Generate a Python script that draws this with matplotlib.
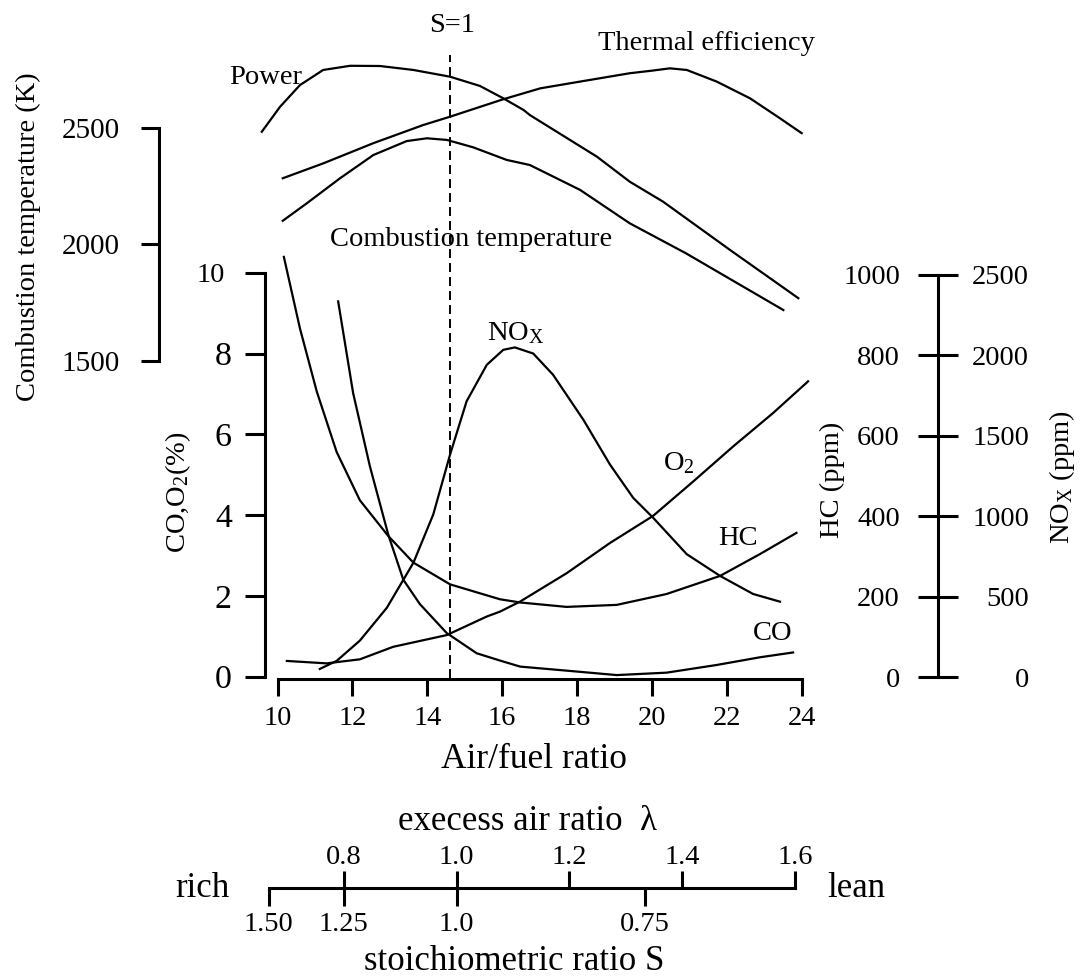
import matplotlib
matplotlib.use("Agg")
import matplotlib.pyplot as plt

plt.rcParams['font.family'] = ['Liberation Serif', 'DejaVu Serif']
plt.rcParams['mathtext.fontset'] = 'custom'
plt.rcParams['mathtext.rm'] = 'Liberation Serif'
plt.rcParams['mathtext.it'] = 'Liberation Serif:italic'
plt.rcParams['mathtext.bf'] = 'Liberation Serif:bold'

# ---------------------------------------------------------------- data
# air/fuel ratio of the stoichiometric mixture
S1_AFR = 14.6

# emissions (lower panel)
co_afr = [11.62, 12.02, 12.47, 12.96, 13.36, 13.80, 14.52, 15.32, 15.94,
          16.48, 17.72, 19.06, 20.39, 21.73, 22.88, 23.77]
co_pct = [9.29, 7.02, 5.20, 3.51, 2.40, 1.80, 1.08, 0.58, 0.40,
          0.25, 0.15, 0.04, 0.10, 0.29, 0.48, 0.60]

o2_afr = [10.25, 11.31, 12.20, 13.09, 14.52, 15.59, 15.94, 16.48, 17.72,
          18.88, 20.03, 21.10, 22.17, 23.24, 24.17]
o2_pct = [0.39, 0.33, 0.43, 0.74, 1.03, 1.49, 1.61, 1.86, 2.56,
          3.31, 3.98, 4.83, 5.70, 6.53, 7.31]

hc_afr = [10.17, 10.60, 11.05, 11.58, 12.20, 12.96, 13.63, 14.61, 15.94,
          16.48, 17.72, 19.06, 20.39, 21.82, 22.88, 23.86]
hc_ppm = [1045, 867, 710, 560, 440, 351, 285, 231, 194,
          186, 175, 180, 207, 252, 306, 359]

nox_afr = [11.13, 11.58, 12.20, 12.92, 13.63, 14.16, 14.61, 15.05, 15.59,
           16.03, 16.34, 16.83, 17.36, 18.17, 18.88, 19.50, 20.03, 20.93,
           21.82, 22.70, 23.42]
nox_ppm = [52, 102, 228, 432, 712, 1012, 1385, 1715, 1942,
           2035, 2050, 2012, 1880, 1600, 1322, 1115, 992, 765,
           630, 518, 470]

# engine performance (upper panel, temperature scale)
power_afr = [9.58, 10.07, 10.60, 11.22, 11.94, 12.74, 13.63, 14.61, 15.41,
             16.03, 16.57, 16.74, 18.53, 19.41, 20.30, 22.09, 23.91]
power_val = [2485, 2593, 2686, 2751, 2769, 2768, 2751, 2722, 2682,
             2629, 2579, 2557, 2378, 2270, 2184, 1976, 1769]

eff_afr = [10.14, 11.22, 12.56, 13.89, 14.61, 16.03, 17.02, 18.08, 19.41,
           20.00, 20.48, 20.93, 21.73, 22.62, 23.42, 24.00]
eff_val = [2285, 2349, 2436, 2514, 2550, 2625, 2672, 2701, 2737,
           2748, 2758, 2751, 2701, 2629, 2543, 2479]

temp_afr = [10.14, 10.78, 11.67, 12.56, 13.45, 13.99, 14.52, 15.23, 15.41,
            16.12, 16.74, 18.08, 19.41, 20.91, 23.51]
temp_K = [2102, 2177, 2285, 2385, 2445, 2457, 2450, 2418, 2407,
          2364, 2342, 2235, 2091, 1962, 1718]

# axis ticks
afr_ticks = [10, 12, 14, 16, 18, 20, 22, 24]
pct_ticks = [0, 2, 4, 6, 8, 10]
temp_ticks = [1500, 2000, 2500]
hc_ticks = [0, 200, 400, 600, 800, 1000]
nox_ticks = [0, 500, 1000, 1500, 2000, 2500]
lambda_ticks = [0.8, 1.0, 1.2, 1.4, 1.6]
lambda_labels = ['0.8', '1.0', '1.2', '1.4', '1.6']
s_ticks = [1.50, 1.25, 1.0, 0.75]
s_labels = ['1.50', '1.25', '1.0', '0.75']

# ---------------------------------------------------------------- layout
W, H = 1083, 976
fig = plt.figure(figsize=(W / 100, H / 100), dpi=100)
LW_AX = 2.2
LW_CURVE = 1.6
FS = 20.5


def hlim(p0, v0, p1, v1):
    k = (v1 - v0) / (p1 - p0)
    return v0 - p0 * k, v0 + (W - p0) * k


def vlim(p0, v0, p1, v1):
    k = (v1 - v0) / (p1 - p0)
    return v0 + (H - p0) * k, v0 - p0 * k


def lin(p0, v0, p1, v1, p):
    return v0 + (p - p0) * (v1 - v0) / (p1 - p0)


def afr_at(px):
    return lin(277.5, 10, 801.7, 24, px)


def pct_at(py):
    return lin(676.7, 0, 272.7, 10, py)


def fxy(x, y):
    return x / W, 1 - y / H


def clean(a):
    for s in a.spines.values():
        s.set_visible(False)
        s.set_linewidth(LW_AX)
    a.patch.set_visible(False)


# main axes: CO, O2 in %
ax = fig.add_axes([0, 0, 1, 1])
clean(ax)
ax.plot(co_afr, co_pct, color='k', lw=LW_CURVE)
ax.plot(o2_afr, o2_pct, color='k', lw=LW_CURVE)
ax.plot([S1_AFR, S1_AFR], [pct_at(678), pct_at(55)], color='k', lw=1.4,
        ls=(0, (4.6, 2.6)))
ax.set_xlim(*hlim(277.5, 10, 801.7, 24))
ax.set_ylim(*vlim(676.7, 0, 272.7, 10))

ax.spines['left'].set_visible(True)
ax.spines['left'].set_position(('data', afr_at(265)))
ax.spines['left'].set_bounds(0, 10)
ax.spines['bottom'].set_visible(True)
ax.spines['bottom'].set_position(('data', pct_at(678.5)))
ax.spines['bottom'].set_bounds(10, 24)
ax.set_xticks(afr_ticks)
ax.tick_params(axis='x', direction='out', length=11.9, width=LW_AX,
               labelsize=FS, pad=8.0, top=False, bottom=True)

# temperature scale (upper panel)
axT = ax.twinx()
clean(axT)
axT.plot(power_afr, power_val, color='k', lw=LW_CURVE)
axT.plot(eff_afr, eff_val, color='k', lw=LW_CURVE)
axT.plot(temp_afr, temp_K, color='k', lw=LW_CURVE)
axT.set_ylim(*vlim(128.3, 2500, 360.7, 1500))
axT.yaxis.set_ticks_position('left')
axT.spines['left'].set_visible(True)
axT.spines['left'].set_position(('data', afr_at(159.3)))
axT.spines['left'].set_bounds(1500, 2500)
axT.set_yticks(temp_ticks)
axT.tick_params(axis='y', left=True, right=False, labelleft=True,
                labelright=False, direction='out', length=12.7,
                width=LW_AX, labelsize=21, pad=15.6)

# HC scale (right)
axH = ax.twinx()
clean(axH)
axH.plot(hc_afr, hc_ppm, color='k', lw=LW_CURVE)
axH.set_ylim(*vlim(677.3, 0, 275, 1000))
axH.yaxis.set_ticks_position('left')
axH.spines['left'].set_visible(True)
axH.spines['left'].set_position(('data', afr_at(938.3)))
axH.spines['left'].set_bounds(0, 1000)
axH.set_yticks(hc_ticks)
axH.tick_params(axis='y', left=True, right=False, labelleft=True,
                labelright=False, direction='inout', length=28.8,
                width=LW_AX, labelsize=FS, pad=13.2)

# NOx scale (right, same spine)
axN = ax.twinx()
clean(axN)
axN.plot(nox_afr, nox_ppm, color='k', lw=LW_CURVE)
axN.set_ylim(*vlim(677.3, 0, 275, 2500))
axN.spines['right'].set_position(('data', afr_at(938.3)))
axN.set_yticks(nox_ticks)
axN.tick_params(axis='y', left=False, right=True, labelleft=False,
                labelright=True, length=0, labelsize=FS, pad=65.3)
for t in axN.yaxis.get_major_ticks():
    t.label2.set_horizontalalignment('right')

# main y ticks (after the twins, so tick_left calls do not interfere)
ax.set_yticks(pct_ticks)
ax.tick_params(axis='y', left=True, right=False, labelleft=True,
               direction='out', length=14.4, width=LW_AX, labelsize=24.5,
               pad=9.4)
for t, v in zip(ax.yaxis.get_major_ticks(), pct_ticks):
    if v >= 10:
        t.label1.set_fontsize(FS)
        t.set_pad(14.4)

# excess air ratio / stoichiometric ratio scale
ax_l = fig.add_axes([0, 0, 1, 1])
clean(ax_l)
lam_lim = hlim(456.6, 1.0, 569.4, 1.2)
ax_s = ax_l.twiny()
clean(ax_s)
for a in (ax_l, ax_s):
    a.set_xlim(*lam_lim)
    a.set_ylim(H, 0)
ax_l.yaxis.set_visible(False)
ax_l.xaxis.tick_top()
ax_l.spines['top'].set_visible(True)
ax_l.spines['top'].set_position(('data', 887.7))
ax_l.spines['top'].set_bounds(1 / s_ticks[0], lambda_ticks[-1])
ax_l.set_xticks(lambda_ticks, labels=lambda_labels)
ax_l.tick_params(axis='x', top=True, bottom=False, labeltop=True,
                 labelbottom=False, direction='out', length=12.0,
                 width=LW_AX, labelsize=FS, pad=0.5)
ax_s.xaxis.tick_bottom()
ax_s.spines['bottom'].set_position(('data', 887.7))
ax_s.set_xticks([1 / s for s in s_ticks], labels=s_labels)
ax_s.tick_params(axis='x', top=False, bottom=True, labeltop=False,
                 labelbottom=True, direction='out', length=13.0,
                 width=LW_AX, labelsize=FS, pad=4.5)

# ---------------------------------------------------------------- text
def label(x, y, s, size=FS, ha='center', va='center', **kw):
    fig.text(*fxy(x, y), s, fontsize=size, ha=ha, va=va, **kw)


label(452, 26, 'S=1')
label(266, 78, 'Power')
label(706, 44, 'Thermal efficiency')
label(330, 240, 'Combustion temperature', ha='left')
label(487, 340, r'NO$_\mathrm{X}$', ha='left', va='baseline')
label(663, 470, r'O$_2$', ha='left', va='baseline')
label(718, 545, 'HC', ha='left', va='baseline')
label(753, 640, 'CO', ha='left', va='baseline')

label(534, 768, 'Air/fuel ratio', size=25.5, va='baseline')
label(527, 830, 'execess air ratio  λ', size=25, va='baseline')
label(514, 970, 'stoichiometric ratio S', size=25, va='baseline')
label(230, 897, 'rich', size=25, ha='right', va='baseline')
label(827, 897, 'lean', size=25, ha='left', va='baseline')

label(178, 492, r'CO,O$_2$(%)', rotation=90)
label(832, 480, 'HC (ppm)', rotation=90)
label(1062, 477, r'NO$_\mathrm{X}$ (ppm)', rotation=90)
label(28, 237, 'Combustion temperature (K)', rotation=90)

fig.savefig('out.png', dpi=100)
